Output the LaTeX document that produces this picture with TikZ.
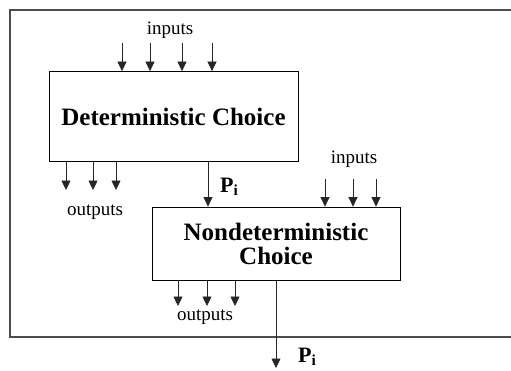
\documentclass[tikz,border=0pt]{standalone}
\usepackage{fontspec}
\setmainfont{Liberation Serif}
\usetikzlibrary{arrows.meta}

\tikzset{
  block/.style={draw, line width=0.8pt, align=center, inner sep=0pt,
    font=\fontsize{25}{24}\selectfont\bfseries},
  sig/.style={-{Triangle[width=9pt,length=9.5pt]}, line width=0.7pt, black!85},
  lbl/.style={font=\fontsize{19}{20}\selectfont, anchor=base, inner sep=0pt},
  plbl/.style={font=\fontsize{22}{22}\selectfont\bfseries, anchor=base west, inner sep=0pt},
}

\begin{document}
\begin{tikzpicture}[x=1pt,y=-1pt]
\useasboundingbox (0,0) rectangle (511,370);
\clip (0,0) rectangle (511,370);
% outer frame, open to the right
\draw[black!70, line width=1.1pt] (515,10) -- (10,10) -- (10,337) -- (515,337);
% choice blocks
\node[block, minimum width=249pt, minimum height=90pt] (det) at (173.5,116.5) {Deterministic Choice};
\node[block, minimum width=248pt, minimum height=73pt] (nd) at (276,243.5) {Nondeterministic\\Choice};
% inputs and outputs of the deterministic block
\foreach \x [count=\i] in {122,150,182,212}
  {\coordinate (din\i) at (\x,43);
   \draw[sig] (din\i) -- (din\i |- det.north);}
\foreach \x [count=\i] in {66,93,116}
  {\coordinate (dout\i) at (\x,190);
   \draw[sig] (dout\i |- det.south) -- (dout\i);}
\node[lbl] (dinl) at (170,34) {inputs};
\node[lbl] (doutl) at (95,215) {outputs};
% inputs and outputs of the nondeterministic block
\foreach \x [count=\i] in {325,353,376}
  {\coordinate (nin\i) at (\x,179);
   \draw[sig] (nin\i) -- (nin\i |- nd.north);}
\foreach \x [count=\i] in {178,207,235}
  {\coordinate (nout\i) at (\x,306);
   \draw[sig] (nout\i |- nd.south) -- (nout\i);}
\node[lbl] (ninl) at (354,163) {inputs};
\node[lbl] (noutl) at (205,320) {outputs};
% P_i links
\coordinate (p1) at (208,0);
\draw[sig] (p1 |- det.south) -- (p1 |- nd.north);
\node[plbl] (p1l) at (220,192) {P\textsubscript{i}};
\coordinate (pout) at (276,368);
\draw[sig] (pout |- nd.south) -- (pout);
\node[plbl] (p2l) at (298,362) {P\textsubscript{i}};
\end{tikzpicture}
\end{document}
